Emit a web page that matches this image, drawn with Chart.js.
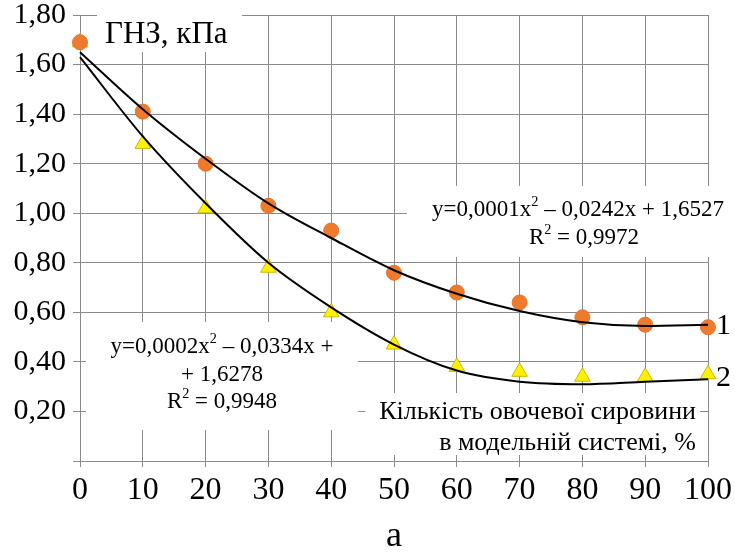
<!DOCTYPE html>
<html>
<head>
<meta charset="utf-8">
<script src="https://cdn.jsdelivr.net/npm/chart.js@4"></script>
<style>
  html, body { margin: 0; padding: 0; background: #fff; }
  #wrap { width: 735px; height: 555px; }
</style>
</head>
<body>
<div id="wrap"><canvas id="chart" width="735" height="555"></canvas></div>
<script>
// share of vegetable raw material, %
var shares = [0, 10, 20, 30, 40, 50, 60, 70, 80, 90, 100];
// measured points
var series1 = [1.69, 1.41, 1.20, 1.03, 0.93, 0.76, 0.68, 0.64, 0.58, 0.55, 0.54];
var series2 = [1.69, 1.28, 1.02, 0.78, 0.60, 0.47, 0.38, 0.36, 0.34, 0.34, 0.35];
// trend curves
var trend1 = [1.65, 1.42, 1.22, 1.04, 0.90, 0.77, 0.675, 0.605, 0.56, 0.545, 0.55];
var trend2 = [1.63, 1.31, 1.04, 0.80, 0.62, 0.47, 0.365, 0.32, 0.31, 0.32, 0.33];

var serif = '"Liberation Serif", "Times New Roman", serif';
var gridColor = '#8a8a8a';

function pairs(ys) {
  return shares.map(function (x, i) { return {x: x, y: ys[i]}; });
}

// draw a line of text with superscript parts, centred at cx
function drawRich(ctx, parts, cx, cy, size) {
  var total = 0;
  parts.forEach(function (p) {
    ctx.font = (p[1] ? size * 0.62 : size) + 'px ' + serif;
    p.w = ctx.measureText(p[0]).width;
    total += p.w;
  });
  var x = cx - total / 2;
  parts.forEach(function (p) {
    ctx.font = (p[1] ? size * 0.62 : size) + 'px ' + serif;
    ctx.fillText(p[0], x, p[1] ? cy - size * 0.33 : cy);
    x += p.w;
  });
}

var notes = {
  id: 'notes',
  beforeDatasetsDraw: function (chart) {
    var ctx = chart.ctx;
    ctx.save();
    ctx.fillStyle = '#fff';
    ctx.fillRect(97, 0, 145, 52);
    ctx.fillRect(407, 186, 328, 71);
    ctx.fillRect(86, 322, 272, 108);
    ctx.fillRect(365, 393, 335, 62);

    ctx.fillStyle = '#000';
    ctx.textAlign = 'left';
    ctx.textBaseline = 'middle';
    ctx.font = '31px ' + serif;
    ctx.fillText('ГНЗ, кПа', 105, 35);

    drawRich(ctx, [['y=0,0001x'], ['2', true], [' – 0,0242x + 1,6527']], 578, 210, 23);
    drawRich(ctx, [['R'], ['2', true], [' = 0,9972']], 584, 238, 23);

    drawRich(ctx, [['y=0,0002x'], ['2', true], [' – 0,0334x +']], 222, 347, 23);
    drawRich(ctx, [['+ 1,6278']], 222, 375, 23);
    drawRich(ctx, [['R'], ['2', true], [' = 0,9948']], 222, 402, 23);

    ctx.textAlign = 'right';
    ctx.font = '26px ' + serif;
    ctx.fillText('Кількість овочевої сировини', 696, 412);
    ctx.fillText('в модельній системі, %', 696, 443);

    ctx.textAlign = 'left';
    ctx.font = '30px ' + serif;
    ctx.fillText('1', 716, 326);
    ctx.fillText('2', 716, 378);
    ctx.restore();
  }
};

new Chart(document.getElementById('chart'), {
  type: 'scatter',
  data: {
    datasets: [
      {
        label: 'trend 1', data: pairs(trend1), type: 'line', showLine: true,
        borderColor: '#000', borderWidth: 2, pointRadius: 0, fill: false,
        cubicInterpolationMode: 'monotone', clip: false
      },
      {
        label: 'trend 2', data: pairs(trend2), type: 'line', showLine: true,
        borderColor: '#000', borderWidth: 2, pointRadius: 0, fill: false,
        cubicInterpolationMode: 'monotone', clip: false
      },
      {
        label: '1', data: pairs(series1), pointStyle: 'circle', pointRadius: 7.5,
        backgroundColor: '#ee7a2c', borderColor: '#e8702a', borderWidth: 1, clip: false
      },
      {
        label: '2', data: pairs(series2), pointStyle: 'triangle', pointRadius: 9,
        backgroundColor: '#fff200', borderColor: '#c9b800', borderWidth: 1, clip: false
      }
    ]
  },
  options: {
    responsive: false,
    animation: false,
    devicePixelRatio: 1,
    layout: { padding: { top: 15, right: 27, left: 0, bottom: 0 } },
    plugins: { legend: { display: false }, tooltip: { enabled: false } },
    scales: {
      x: {
        type: 'linear', min: 0, max: 100,
        ticks: { stepSize: 10, color: '#000', padding: 4, font: { family: serif, size: 32 } },
        grid: { color: gridColor, tickLength: 6 },
        border: { color: gridColor },
        title: {
          display: true, text: 'а', color: '#000', padding: { top: 0, bottom: 0 },
          font: { family: serif, size: 36, lineHeight: 1 }
        },
        afterFit: function (s) { s.height = 94; s.paddingLeft = 0; s.paddingRight = 0; }
      },
      y: {
        min: 0, max: 1.8,
        ticks: {
          stepSize: 0.2, color: '#000', padding: 7, font: { family: serif, size: 30 },
          callback: function (v) { return v === 0 ? '' : v.toFixed(2).replace('.', ','); }
        },
        grid: { color: gridColor, tickLength: 7 },
        border: { color: gridColor },
        afterFit: function (s) { s.width = 80; s.paddingTop = 0; s.paddingBottom = 0; }
      }
    }
  },
  plugins: [notes]
});
</script>
</body>
</html>
